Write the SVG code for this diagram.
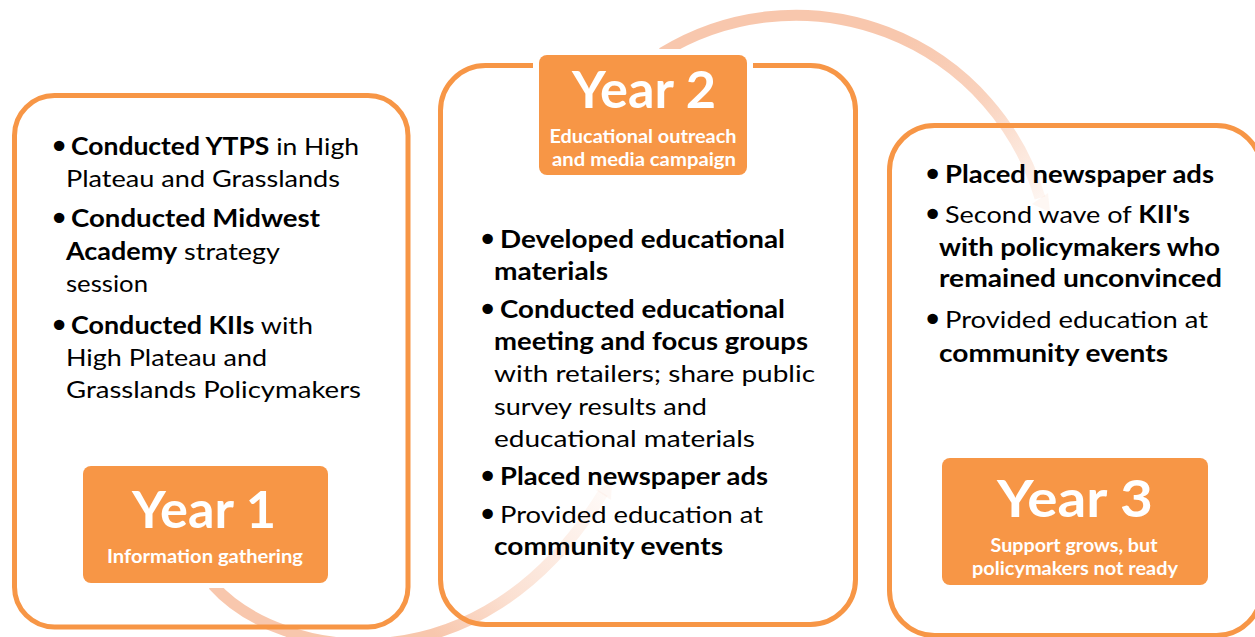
<svg xmlns="http://www.w3.org/2000/svg" width="1255" height="637" viewBox="0 0 1255 637">
  <defs>
    <style>
      .t { font-family: Lato, "Open Sans", "Liberation Sans", sans-serif; font-size: 24px; fill: #000; }
      .bd { font-weight: 700; }
      .bul { font-family: "DejaVu Sans", "Liberation Sans", sans-serif; font-size: 36px; fill: #000; text-anchor: middle; }
      .frame { fill: none; stroke: #F79646; stroke-width: 5; }
      .hdr-bg { fill: #fff; }
      .hdr { fill: #F79646; }
      .yr { font-family: Lato, "Open Sans", "Liberation Sans", sans-serif; font-weight: 700; fill: #fff; text-anchor: middle; font-size: 52px; }
      .sub { font-family: Lato, "Open Sans", "Liberation Sans", sans-serif; font-weight: 700; fill: #fff; text-anchor: middle; font-size: 18px; }
    </style>
    <linearGradient id="g1" gradientUnits="userSpaceOnUse" x1="440" y1="640" x2="607" y2="487">
      <stop offset="0" stop-color="#F8C7AD" stop-opacity="1"/>
      <stop offset="0.35" stop-color="#F8C7AD" stop-opacity="0.55"/>
      <stop offset="1" stop-color="#F8C7AD" stop-opacity="0.08"/>
    </linearGradient>
    <linearGradient id="g2" gradientUnits="userSpaceOnUse" x1="900" y1="35" x2="1047" y2="205">
      <stop offset="0" stop-color="#F8C7AD" stop-opacity="1"/>
      <stop offset="0.45" stop-color="#F8C7AD" stop-opacity="0.8"/>
      <stop offset="1" stop-color="#F8C7AD" stop-opacity="0.12"/>
    </linearGradient>
  </defs>

  <rect width="1255" height="637" fill="#fff"/>

  <g id="connectors">
    <path d="M 213 585 C 280 660, 480 695, 603 493" fill="none" stroke="url(#g1)" stroke-width="11"/>
    <polygon points="612,482 611,500 596,490" fill="#F8C7AD" fill-opacity="0.12"/>
    <path d="M 662 53 A 255 255 0 0 1 1040 198" fill="none" stroke="url(#g2)" stroke-width="11"/>
    <polygon points="1050,212 1032,204 1048,193" fill="#F8C7AD" fill-opacity="0.15"/>
  </g>

  <g id="year1">
    <rect class="frame" x="14.5" y="95.5" width="393.5" height="531.5" rx="40"/>
    <text class="bul" x="59" y="159">•</text>
    <text class="t" x="71" y="155" textLength="288" lengthAdjust="spacingAndGlyphs"><tspan class="bd">Conducted YTPS</tspan> in High</text>
    <text class="t" x="66" y="187" textLength="274" lengthAdjust="spacingAndGlyphs">Plateau and Grasslands</text>
    <text class="bul" x="59" y="231">•</text>
    <text class="t bd" x="71" y="227" textLength="249" lengthAdjust="spacingAndGlyphs">Conducted Midwest</text>
    <text class="t" x="66" y="260" textLength="214" lengthAdjust="spacingAndGlyphs"><tspan class="bd">Academy</tspan> strategy</text>
    <text class="t" x="66" y="292" textLength="82" lengthAdjust="spacingAndGlyphs">session</text>
    <text class="bul" x="59" y="338">•</text>
    <text class="t" x="71" y="334" textLength="242" lengthAdjust="spacingAndGlyphs"><tspan class="bd">Conducted KIIs</tspan> with</text>
    <text class="t" x="66" y="366" textLength="201" lengthAdjust="spacingAndGlyphs">High Plateau and</text>
    <text class="t" x="66" y="398" textLength="295" lengthAdjust="spacingAndGlyphs">Grasslands Policymakers</text>
    <rect class="hdr-bg" x="78" y="461" width="255" height="127" rx="12"/>
    <rect class="hdr" x="83" y="466" width="245" height="117" rx="8"/>
    <text class="yr" x="204" y="528" textLength="144" lengthAdjust="spacingAndGlyphs">Year 1</text>
    <text class="sub" x="205" y="563" textLength="196" lengthAdjust="spacingAndGlyphs">Information gathering</text>
  </g>

  <g id="year2">
    <rect class="frame" x="440.5" y="65.5" width="415" height="559" rx="45"/>
    <rect class="hdr-bg" x="533" y="49" width="220" height="132" rx="12"/>
    <rect class="hdr" x="539" y="55" width="208" height="120" rx="8"/>
    <text class="yr" x="644" y="108" textLength="144" lengthAdjust="spacingAndGlyphs">Year 2</text>
    <text class="sub" x="643" y="143" textLength="187" lengthAdjust="spacingAndGlyphs">Educational  outreach</text>
    <text class="sub" x="644" y="166" textLength="184" lengthAdjust="spacingAndGlyphs">and media campaign</text>
    <text class="bul" x="487.5" y="252">•</text>
    <text class="t bd" x="500" y="248" textLength="285" lengthAdjust="spacingAndGlyphs">Developed educational</text>
    <text class="t bd" x="494" y="280" textLength="114" lengthAdjust="spacingAndGlyphs">materials</text>
    <text class="bul" x="487.5" y="322">•</text>
    <text class="t bd" x="500" y="318" textLength="285" lengthAdjust="spacingAndGlyphs">Conducted educational</text>
    <text class="t bd" x="494" y="350" textLength="314" lengthAdjust="spacingAndGlyphs">meeting and focus groups</text>
    <text class="t" x="494" y="382" textLength="321" lengthAdjust="spacingAndGlyphs">with retailers; share public</text>
    <text class="t" x="494" y="415" textLength="213" lengthAdjust="spacingAndGlyphs">survey results and</text>
    <text class="t" x="494" y="447" textLength="261" lengthAdjust="spacingAndGlyphs">educational materials</text>
    <text class="bul" x="487.5" y="489">•</text>
    <text class="t bd" x="500" y="485" textLength="268" lengthAdjust="spacingAndGlyphs">Placed newspaper ads</text>
    <text class="bul" x="487.5" y="527">•</text>
    <text class="t" x="500" y="523" textLength="263" lengthAdjust="spacingAndGlyphs">Provided education at</text>
    <text class="t bd" x="494" y="555" textLength="229" lengthAdjust="spacingAndGlyphs">community events</text>
  </g>

  <g id="year3">
    <rect class="frame" x="889.5" y="125.5" width="372" height="510" rx="45"/>
    <text class="bul" x="932.5" y="187">•</text>
    <text class="t bd" x="945" y="183" textLength="269" lengthAdjust="spacingAndGlyphs">Placed newspaper ads</text>
    <text class="bul" x="932.5" y="227">•</text>
    <text class="t" x="945" y="223" textLength="245" lengthAdjust="spacingAndGlyphs">Second  wave of <tspan class="bd">KII's</tspan></text>
    <text class="t bd" x="939" y="256" textLength="281" lengthAdjust="spacingAndGlyphs">with policymakers who</text>
    <text class="t bd" x="939" y="287" textLength="283" lengthAdjust="spacingAndGlyphs">remained unconvinced</text>
    <text class="bul" x="932.5" y="332">•</text>
    <text class="t" x="945" y="328" textLength="263" lengthAdjust="spacingAndGlyphs">Provided education at</text>
    <text class="t bd" x="939" y="362" textLength="229" lengthAdjust="spacingAndGlyphs">community events</text>
    <rect class="hdr" x="942" y="458" width="266" height="127" rx="8"/>
    <text class="yr" x="1075" y="517" font-size="55" textLength="156" lengthAdjust="spacingAndGlyphs">Year 3</text>
    <text class="sub" x="1074" y="552" textLength="167" lengthAdjust="spacingAndGlyphs">Support grows, but</text>
    <text class="sub" x="1075" y="575" textLength="206" lengthAdjust="spacingAndGlyphs">policymakers not ready</text>
  </g>
</svg>
